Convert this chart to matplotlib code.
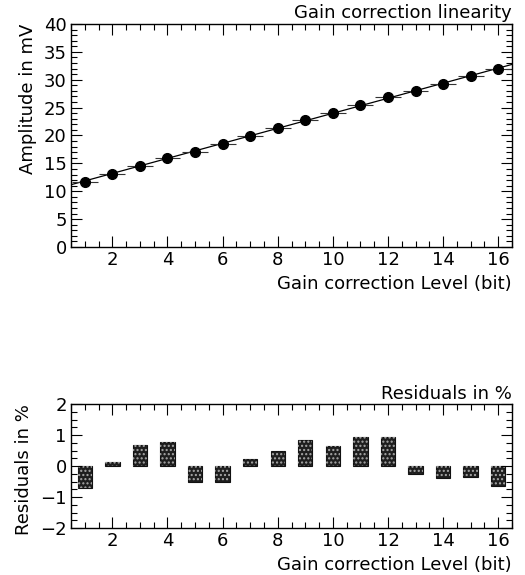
import numpy as np
import matplotlib
matplotlib.use("Agg")
import matplotlib.pyplot as plt
from matplotlib.ticker import MultipleLocator

levels = np.arange(1, 17)
amplitude = [11.68, 13.17, 14.6, 16.05, 17.07, 18.44, 19.94, 21.38,
             22.8, 24.07, 25.5, 26.9, 28.0, 29.3, 30.6, 31.9]
amp_err = [0.7] * 16
lvl_err = [0.47] * 16
residuals = [-0.71, 0.14, 0.69, 0.78, -0.5, -0.53, 0.23, 0.49,
             0.84, 0.65, 0.95, 0.94, -0.26, -0.4, -0.36, -0.63]

plt.rcParams['font.family'] = ['DejaVu Sans']
plt.rcParams['hatch.linewidth'] = 1.0

fig = plt.figure(figsize=(5.25, 5.75), dpi=100)
W, H = 525, 575
FS = 13

def add_ax(l, t, r, b):
    return fig.add_axes([l / W, 1 - b / H, (r - l) / W, (b - t) / H])

ax1 = add_ax(71, 24, 512, 247)
ax2 = add_ax(71, 404, 512, 528)

def style(ax):
    ax.set_xlim(0.5, 16.5)
    ax.xaxis.set_major_locator(MultipleLocator(2))
    ax.xaxis.set_minor_locator(MultipleLocator(0.5))
    ax.tick_params(which='both', direction='in', top=True, right=True,
                   labelsize=FS, width=0.8, pad=3)
    ax.tick_params(which='major', length=8)
    ax.tick_params(which='minor', length=4)
    for s in ax.spines.values():
        s.set_linewidth(1.0)

# Top panel
style(ax1)
ax1.set_ylim(0, 40)
ax1.yaxis.set_major_locator(MultipleLocator(5))
ax1.yaxis.set_minor_locator(MultipleLocator(1))
coef = np.polyfit(levels, amplitude, 1)
xf = np.array([0.5, 16.5])
ax1.plot(xf, np.polyval(coef, xf), color='black', lw=0.9)
ax1.errorbar(levels, amplitude, xerr=lvl_err, yerr=amp_err, fmt='o',
             color='black', ecolor='#333333', ms=7, elinewidth=0.8, capsize=0)
ax1.text(1.0, 1.01, 'Gain correction linearity', transform=ax1.transAxes,
         ha='right', va='bottom', fontsize=FS)
ax1.set_xlabel('Gain correction Level (bit)', fontsize=FS, loc='right', labelpad=4)
ax1.set_ylabel('Amplitude in mV', fontsize=FS, loc='top', labelpad=5)

# Residual panel
style(ax2)
ax2.set_ylim(-2, 2)
ax2.yaxis.set_major_locator(MultipleLocator(1))
ax2.yaxis.set_minor_locator(MultipleLocator(0.25))
ax2.bar(levels, residuals, width=0.52, color='#1e1e1e', edgecolor='#111111', lw=0.8)
ax2.bar(levels, residuals, width=0.52, color='none', edgecolor='#a8a8a8',
        hatch='....', lw=0)
ax2.text(1.0, 1.01, 'Residuals in %', transform=ax2.transAxes,
         ha='right', va='bottom', fontsize=FS)
ax2.set_xlabel('Gain correction Level (bit)', fontsize=FS, loc='right', labelpad=4)
ax2.set_ylabel('Residuals in %', fontsize=FS, loc='top', labelpad=5)

fig.savefig('out.png', dpi=100)
